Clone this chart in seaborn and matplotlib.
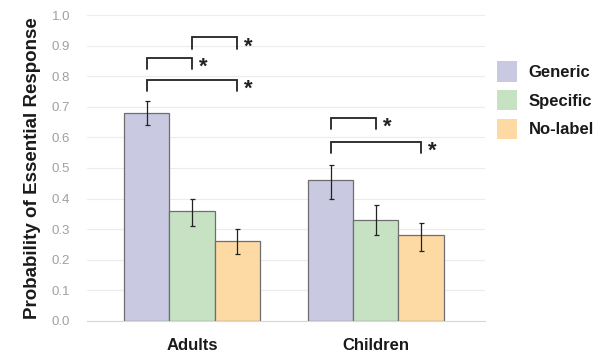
import matplotlib
matplotlib.use("Agg")
import matplotlib.pyplot as plt
import seaborn as sns
import pandas as pd
import numpy as np
from matplotlib.patches import Patch
from matplotlib.container import BarContainer

groups = ["Adults", "Children"]
conditions = ["Generic", "Specific", "No-label"]
adults_vals = [0.68, 0.36, 0.26]
children_vals = [0.46, 0.33, 0.28]
adults_lo = [0.64, 0.31, 0.22]
adults_hi = [0.72, 0.40, 0.30]
children_lo = [0.40, 0.28, 0.23]
children_hi = [0.51, 0.38, 0.32]
colors = ["#c9c9e1", "#c7e2c3", "#fdd9a3"]
yticks = [0.0, 0.1, 0.2, 0.3, 0.4, 0.5, 0.6, 0.7, 0.8, 0.9, 1.0]
# significance brackets: (group index, cond a, cond b, top y, leg bottom y)
brackets = [
    (0, 1, 2, 0.928, 0.888),
    (0, 0, 1, 0.858, 0.822),
    (0, 0, 2, 0.787, 0.753),
    (1, 0, 1, 0.663, 0.627),
    (1, 0, 2, 0.586, 0.548),
]

df = pd.DataFrame({
    "group": [g for g in groups for _ in conditions],
    "condition": conditions * 2,
    "value": adults_vals + children_vals,
})
lo = {0: adults_lo, 1: children_lo}
hi = {0: adults_hi, 1: children_hi}
vals = {0: adults_vals, 1: children_vals}

sns.set_style("white")
plt.rcParams["font.family"] = ["Liberation Sans", "DejaVu Sans"]

fig = plt.figure(figsize=(6.0, 3.53), dpi=100)
ax = fig.add_axes([0.145, 0.0907, 0.663, 0.8668])

sns.barplot(data=df, x="group", y="value", hue="condition", order=groups,
            hue_order=conditions, palette=colors, width=0.735, errorbar=None,
            edgecolor="#6e6e6e", linewidth=0.9, saturation=1, ax=ax, legend=False)

bar_conts = [c for c in list(ax.containers) if isinstance(c, BarContainer)]
centers = {}
for ci, cont in enumerate(bar_conts):
    for gi, bar in enumerate(cont.patches):
        cx = bar.get_x() + bar.get_width() / 2
        centers[(gi, ci)] = cx
        v = vals[gi][ci]
        ax.errorbar(cx, v, yerr=[[v - lo[gi][ci]], [hi[gi][ci] - v]],
                    fmt="none", ecolor="#222222", elinewidth=0.9,
                    capsize=1.8, capthick=0.9, zorder=5)

for gi, a, b, top, bot in brackets:
    xa = centers[(gi, a)]
    xb = centers[(gi, b)]
    ax.plot([xa, xa, xb, xb], [bot, top, top, bot], color="#222222",
            lw=1.3, clip_on=False, solid_joinstyle="miter")
    ax.text(xb + 0.06, bot + 0.006, "*", ha="center", va="center",
            fontsize=16, fontweight="bold", color="#222222")

ax.set_ylim(0, 1.0)
ax.set_xlim(-0.571, 1.592)
ax.set_yticks(yticks)
ax.set_yticklabels([f"{t:.1f}" for t in yticks], color="#a0a0a0", fontsize=9.5)
ax.yaxis.grid(True, color="#ececec", lw=0.8)
ax.set_axisbelow(True)
for s in ["top", "right", "left"]:
    ax.spines[s].set_visible(False)
ax.spines["bottom"].set_color("#d8d8d8")
ax.tick_params(axis="both", length=0)
ax.tick_params(axis="y", pad=12)
ax.tick_params(axis="x", pad=12)
ax.set_xticks([0, 1])
ax.set_xticklabels(groups, fontsize=12, fontweight="bold", color="#1a1a1a")
ax.set_xlabel("")
ax.set_ylabel("Probability of Essential Response", fontsize=13.5,
              fontweight="bold", color="#1a1a1a", labelpad=8)

handles = [Patch(facecolor=c, edgecolor="none") for c in colors]
leg = fig.legend(handles, conditions, loc="upper left",
                 bbox_to_anchor=(0.828, 0.826), frameon=False,
                 borderpad=0, borderaxespad=0,
                 handlelength=1.2, handleheight=1.5, handletextpad=0.7,
                 labelspacing=0.5, prop={"size": 12, "weight": "bold"})
for t in leg.get_texts():
    t.set_color("#1a1a1a")

fig.savefig("out.png", dpi=100)
